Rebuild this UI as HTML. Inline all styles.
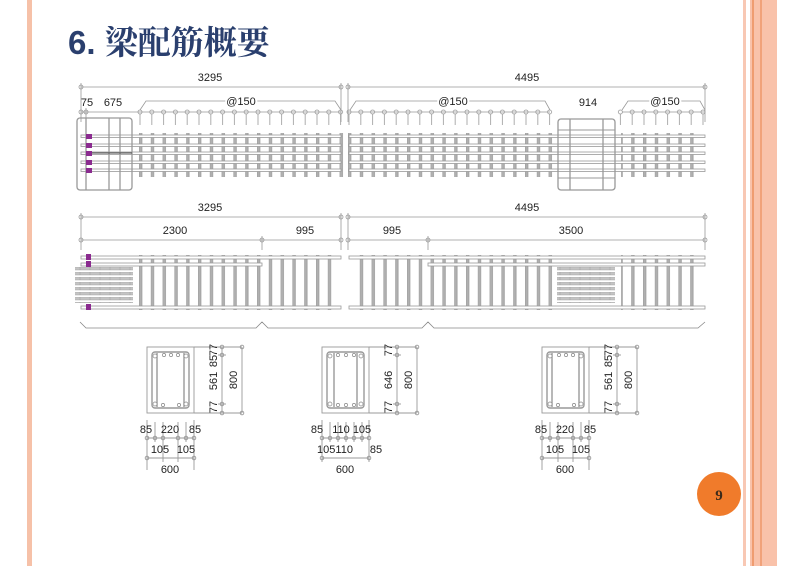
<!DOCTYPE html>
<html><head><meta charset="utf-8"><style>
html,body{margin:0;padding:0;background:#fff;}
body{width:800px;height:566px;overflow:hidden;position:relative;}
svg{position:absolute;left:0;top:0;}
</style></head><body>
<svg width="800" height="566" viewBox="0 0 800 566" xmlns="http://www.w3.org/2000/svg" font-family="'Liberation Sans', sans-serif">
<defs>
 <pattern id="stirL" patternUnits="userSpaceOnUse" x="139" y="0" width="11.8" height="566">
  <rect x="0" y="0" width="3" height="566" fill="#b0b0b0" stroke="#888" stroke-width="0.5"/>
 </pattern>
 <pattern id="stirR" patternUnits="userSpaceOnUse" x="348" y="0" width="11.8" height="566">
  <rect x="0" y="0" width="3" height="566" fill="#b0b0b0" stroke="#888" stroke-width="0.5"/>
 </pattern>
 <pattern id="tickL" patternUnits="userSpaceOnUse" x="134.1" y="105" width="11.8" height="25">
  <circle cx="5.9" cy="7" r="2" fill="none" stroke="#999" stroke-width="0.8"/>
  <line x1="5.9" y1="9" x2="5.9" y2="20" stroke="#999" stroke-width="0.8"/>
 </pattern>
 <pattern id="tickR" patternUnits="userSpaceOnUse" x="343.1" y="105" width="11.8" height="25">
  <circle cx="5.9" cy="7" r="2" fill="none" stroke="#999" stroke-width="0.8"/>
  <line x1="5.9" y1="9" x2="5.9" y2="20" stroke="#999" stroke-width="0.8"/>
 </pattern>
 <pattern id="anch" patternUnits="userSpaceOnUse" x="0" y="267" width="10" height="5">
  <rect x="0" y="0" width="10" height="3" fill="#c4c4c4" stroke="#999" stroke-width="0.4"/>
 </pattern>
</defs>

<rect x="27" y="0" width="5" height="566" fill="#f6c1a8"/>
<rect x="743" y="0" width="3" height="566" fill="#f8c8b4"/>
<rect x="750" y="0" width="27" height="566" fill="#f9c2aa"/>
<rect x="752" y="0" width="2" height="566" fill="#ef9c70"/>
<rect x="760" y="0" width="2" height="566" fill="#f1a27a"/>

<text x="68" y="54" font-size="33" font-weight="bold" fill="#2a3f6e" font-family="'Liberation Sans','Noto Serif CJK SC',serif">6. 梁配筋概要</text>

<g stroke="#999" stroke-width="0.8" fill="none">
 <line x1="81" y1="87" x2="341" y2="87"/><line x1="348" y1="87" x2="705" y2="87"/>
 <line x1="81" y1="83" x2="81" y2="122"/><line x1="341" y1="83" x2="341" y2="122"/>
 <line x1="348" y1="83" x2="348" y2="122"/><line x1="705" y1="83" x2="705" y2="122"/>
 <line x1="86" y1="108" x2="86" y2="122"/>
 <line x1="81" y1="112" x2="341" y2="112"/><line x1="348" y1="112" x2="550" y2="112"/><line x1="622" y1="112" x2="705" y2="112"/>
 <polyline points="140,110 146,101 335,101 341,110"/>
 <polyline points="350,110 356,101 545,101 550,110"/>
 <polyline points="622,110 628,101 700,101 705,110"/>
 <circle cx="81" cy="87" r="2"/><circle cx="341" cy="87" r="2"/><circle cx="348" cy="87" r="2"/><circle cx="705" cy="87" r="2"/>
 <circle cx="81" cy="112" r="2"/><circle cx="86" cy="112" r="2"/>
</g>
<rect x="134" y="105" width="212" height="25" fill="url(#tickL)"/>
<rect x="343" y="105" width="212" height="25" fill="url(#tickR)"/>
<rect x="617" y="105" width="95" height="25" fill="url(#tickR)"/>
<g font-size="11" fill="#222" text-anchor="middle">
 <text x="210" y="81">3295</text><text x="527" y="81">4495</text>
 <text x="87" y="106">75</text><text x="113" y="106">675</text>
 <text x="241" y="105" fill="#fff" stroke="#fff" stroke-width="4">@150</text><text x="241" y="105">@150</text>
 <text x="453" y="105" fill="#fff" stroke="#fff" stroke-width="4">@150</text><text x="453" y="105">@150</text>
 <text x="588" y="106">914</text>
 <text x="665" y="105" fill="#fff" stroke="#fff" stroke-width="4">@150</text><text x="665" y="105">@150</text>
</g>

<rect x="139" y="133" width="205" height="44" fill="url(#stirL)"/>
<rect x="348" y="133" width="205" height="44" fill="url(#stirR)"/>
<rect x="621" y="133" width="80" height="44" fill="url(#stirR)"/>
<g fill="#fff" stroke="#999" stroke-width="0.8">
 <rect x="81" y="135" width="260" height="2.5"/><rect x="81" y="144" width="260" height="2.5"/>
 <rect x="81" y="152" width="260" height="2.5"/><rect x="81" y="161" width="260" height="2.5"/>
 <rect x="81" y="169" width="260" height="2.5"/>
 <rect x="349" y="135" width="356" height="2.5"/><rect x="349" y="144" width="356" height="2.5"/>
 <rect x="349" y="152" width="356" height="2.5"/><rect x="349" y="161" width="356" height="2.5"/>
 <rect x="349" y="169" width="356" height="2.5"/>
</g>
<g fill="none" stroke="#999" stroke-width="1.3">
 <rect x="77" y="118" width="55" height="72" rx="3"/>
 <line x1="86" y1="118" x2="86" y2="190"/><line x1="109" y1="118" x2="109" y2="190"/><line x1="120" y1="118" x2="120" y2="190"/>
 <rect x="558" y="119" width="57" height="71" rx="3"/>
 <line x1="570" y1="119" x2="570" y2="190"/><line x1="603" y1="119" x2="603" y2="190"/>
 <line x1="558" y1="130" x2="615" y2="130" stroke-width="1"/><line x1="558" y1="178" x2="615" y2="178" stroke-width="1"/>
</g>
<line x1="88" y1="153" x2="132" y2="153" stroke="#444" stroke-width="1"/>
<g fill="#8a2b8f">
 <rect x="86" y="134" width="6" height="5"/><rect x="86" y="143" width="6" height="5"/>
 <rect x="86" y="151" width="6" height="5"/><rect x="86" y="160" width="6" height="5"/>
 <rect x="86" y="168" width="6" height="5"/>
</g>

<g stroke="#999" stroke-width="0.8" fill="none">
 <line x1="81" y1="217" x2="341" y2="217"/><line x1="348" y1="217" x2="705" y2="217"/>
 <line x1="81" y1="240" x2="341" y2="240"/><line x1="348" y1="240" x2="705" y2="240"/>
 <line x1="81" y1="213" x2="81" y2="250"/><line x1="341" y1="213" x2="341" y2="250"/>
 <line x1="348" y1="213" x2="348" y2="250"/><line x1="705" y1="213" x2="705" y2="250"/>
 <line x1="262" y1="236" x2="262" y2="250"/><line x1="428" y1="236" x2="428" y2="250"/>
 <circle cx="81" cy="217" r="2"/><circle cx="341" cy="217" r="2"/><circle cx="348" cy="217" r="2"/><circle cx="705" cy="217" r="2"/>
 <circle cx="81" cy="240" r="2"/><circle cx="341" cy="240" r="2"/><circle cx="348" cy="240" r="2"/><circle cx="705" cy="240" r="2"/>
 <circle cx="262" cy="240" r="2"/><circle cx="428" cy="240" r="2"/>
 <polyline points="80,322 86,328 256,328 262,322 268,328 422,328 428,322 434,328 698,328 705,322" stroke="#888"/>
</g>
<g font-size="11" fill="#222" text-anchor="middle">
 <text x="210" y="211">3295</text><text x="527" y="211">4495</text>
 <text x="175" y="234">2300</text><text x="305" y="234">995</text>
 <text x="392" y="234">995</text><text x="571" y="234">3500</text>
</g>
<rect x="137" y="255" width="196" height="55" fill="url(#stirL)"/>
<rect x="357" y="255" width="196" height="55" fill="url(#stirR)"/>
<rect x="621" y="255" width="75" height="55" fill="url(#stirR)"/>
<g fill="#fff" stroke="#999" stroke-width="0.8">
 <rect x="81" y="256" width="260" height="3"/><rect x="81" y="263" width="181" height="3"/>
 <rect x="81" y="306" width="260" height="3"/>
 <rect x="349" y="256" width="356" height="3"/><rect x="428" y="263" width="277" height="3"/>
 <rect x="349" y="306" width="356" height="3"/>
</g>
<rect x="75" y="267" width="58" height="36" fill="url(#anch)"/>
<rect x="557" y="267" width="58" height="36" fill="url(#anch)"/>
<g fill="#8a2b8f">
 <rect x="86" y="254" width="5" height="6"/><rect x="86" y="261" width="5" height="6"/><rect x="86" y="304" width="5" height="6"/>
</g>

<g id="sec1">
 <g fill="none" stroke="#999" stroke-width="0.9">
  <rect x="147" y="347" width="47" height="66"/>
  <rect x="152" y="352" width="37" height="56" rx="3" stroke-width="1.4"/>
  <line x1="157" y1="353" x2="157" y2="407" stroke-width="1.4"/><line x1="184" y1="353" x2="184" y2="407" stroke-width="1.4"/>
  <line x1="194" y1="347" x2="242" y2="347"/><line x1="194" y1="413" x2="242" y2="413"/>
  <line x1="218" y1="355" x2="226" y2="355"/><line x1="218" y1="404" x2="226" y2="404"/>
  <line x1="222" y1="347" x2="222" y2="413"/><line x1="242" y1="347" x2="242" y2="413"/>
  <circle cx="222" cy="347" r="1.8"/><circle cx="222" cy="355" r="1.8"/><circle cx="222" cy="404" r="1.8"/><circle cx="222" cy="413" r="1.8"/>
  <circle cx="242" cy="347" r="1.8"/><circle cx="242" cy="413" r="1.8"/>
  <line x1="147" y1="420" x2="147" y2="470"/><line x1="194" y1="420" x2="194" y2="470"/>
  <line x1="155" y1="422" x2="155" y2="442"/><line x1="186" y1="422" x2="186" y2="442"/>
  <line x1="163" y1="422" x2="163" y2="462"/><line x1="178" y1="422" x2="178" y2="462"/>
  <line x1="147" y1="438" x2="194" y2="438"/><line x1="147" y1="458" x2="194" y2="458"/>
  <circle cx="147" cy="438" r="1.8"/><circle cx="155" cy="438" r="1.8"/><circle cx="163" cy="438" r="1.8"/><circle cx="178" cy="438" r="1.8"/><circle cx="186" cy="438" r="1.8"/><circle cx="194" cy="438" r="1.8"/>
  <circle cx="147" cy="458" r="1.8"/><circle cx="194" cy="458" r="1.8"/>
 </g>
 <g fill="#fff" stroke="#888" stroke-width="0.7">
  <circle cx="155" cy="356" r="2"/><circle cx="164" cy="355" r="1.6"/><circle cx="171" cy="355" r="1.6"/><circle cx="178" cy="355" r="1.6"/><circle cx="186" cy="356" r="2"/>
  <circle cx="155" cy="404" r="2"/><circle cx="163" cy="405" r="1.6"/><circle cx="179" cy="405" r="1.6"/><circle cx="186" cy="404" r="2"/>
 </g>
 <g font-size="11" fill="#222" text-anchor="middle">
  <text transform="translate(217,350) rotate(-90)">77</text>
  <text transform="translate(217,361) rotate(-90)">85</text>
  <text transform="translate(217,381) rotate(-90)">561</text>
  <text transform="translate(217,407) rotate(-90)">77</text>
  <text transform="translate(237,380) rotate(-90)">800</text>
  <text x="146" y="433">85</text><text x="170" y="433">220</text><text x="195" y="433">85</text>
  <text x="160" y="453">105</text><text x="186" y="453">105</text>
  <text x="170" y="473">600</text>
 </g>
</g>
<g id="sec2">
 <g fill="none" stroke="#999" stroke-width="0.9">
  <rect x="322" y="347" width="47" height="66"/>
  <rect x="327" y="352" width="37" height="56" rx="3" stroke-width="1.4"/>
  <line x1="334" y1="353" x2="334" y2="407" stroke-width="1.4"/><line x1="357" y1="353" x2="357" y2="407" stroke-width="1.4"/>
  <line x1="369" y1="347" x2="417" y2="347"/><line x1="369" y1="413" x2="417" y2="413"/>
  <line x1="393" y1="355" x2="401" y2="355"/><line x1="393" y1="404" x2="401" y2="404"/>
  <line x1="397" y1="347" x2="397" y2="413"/><line x1="417" y1="347" x2="417" y2="413"/>
  <circle cx="397" cy="347" r="1.8"/><circle cx="397" cy="355" r="1.8"/><circle cx="397" cy="404" r="1.8"/><circle cx="397" cy="413" r="1.8"/>
  <circle cx="417" cy="347" r="1.8"/><circle cx="417" cy="413" r="1.8"/>
  <line x1="322" y1="420" x2="322" y2="462"/><line x1="369" y1="420" x2="369" y2="462"/>
  <line x1="330" y1="422" x2="330" y2="442"/><line x1="338" y1="422" x2="338" y2="442"/><line x1="346" y1="422" x2="346" y2="442"/><line x1="354" y1="422" x2="354" y2="442"/><line x1="362" y1="422" x2="362" y2="442"/>
  <line x1="322" y1="438" x2="369" y2="438"/><line x1="322" y1="458" x2="369" y2="458"/>
  <circle cx="322" cy="438" r="1.8"/><circle cx="330" cy="438" r="1.8"/><circle cx="338" cy="438" r="1.8"/><circle cx="346" cy="438" r="1.8"/><circle cx="354" cy="438" r="1.8"/><circle cx="362" cy="438" r="1.8"/><circle cx="369" cy="438" r="1.8"/>
  <circle cx="322" cy="458" r="1.8"/><circle cx="369" cy="458" r="1.8"/>
 </g>
 <g fill="#fff" stroke="#888" stroke-width="0.7">
  <circle cx="330" cy="356" r="2"/><circle cx="338" cy="355" r="1.6"/><circle cx="346" cy="355" r="1.6"/><circle cx="354" cy="355" r="1.6"/><circle cx="361" cy="356" r="2"/>
  <circle cx="330" cy="404" r="2"/><circle cx="338" cy="405" r="1.6"/><circle cx="346" cy="405" r="1.6"/><circle cx="354" cy="405" r="1.6"/><circle cx="361" cy="404" r="2"/>
 </g>
 <g font-size="11" fill="#222" text-anchor="middle">
  <text transform="translate(392,350) rotate(-90)">77</text>
  <text transform="translate(392,380) rotate(-90)">646</text>
  <text transform="translate(392,407) rotate(-90)">77</text>
  <text transform="translate(412,380) rotate(-90)">800</text>
  <text x="317" y="433">85</text><text x="341" y="433">110</text><text x="362" y="433">105</text>
  <text x="335" y="453">105110</text><text x="376" y="453">85</text>
  <text x="345" y="473">600</text>
 </g>
</g>
<g id="sec3" transform="translate(395,0)">
 <g fill="none" stroke="#999" stroke-width="0.9">
  <rect x="147" y="347" width="47" height="66"/>
  <rect x="152" y="352" width="37" height="56" rx="3" stroke-width="1.4"/>
  <line x1="157" y1="353" x2="157" y2="407" stroke-width="1.4"/><line x1="184" y1="353" x2="184" y2="407" stroke-width="1.4"/>
  <line x1="194" y1="347" x2="242" y2="347"/><line x1="194" y1="413" x2="242" y2="413"/>
  <line x1="218" y1="355" x2="226" y2="355"/><line x1="218" y1="404" x2="226" y2="404"/>
  <line x1="222" y1="347" x2="222" y2="413"/><line x1="242" y1="347" x2="242" y2="413"/>
  <circle cx="222" cy="347" r="1.8"/><circle cx="222" cy="355" r="1.8"/><circle cx="222" cy="404" r="1.8"/><circle cx="222" cy="413" r="1.8"/>
  <circle cx="242" cy="347" r="1.8"/><circle cx="242" cy="413" r="1.8"/>
  <line x1="147" y1="420" x2="147" y2="470"/><line x1="194" y1="420" x2="194" y2="470"/>
  <line x1="155" y1="422" x2="155" y2="442"/><line x1="186" y1="422" x2="186" y2="442"/>
  <line x1="163" y1="422" x2="163" y2="462"/><line x1="178" y1="422" x2="178" y2="462"/>
  <line x1="147" y1="438" x2="194" y2="438"/><line x1="147" y1="458" x2="194" y2="458"/>
  <circle cx="147" cy="438" r="1.8"/><circle cx="155" cy="438" r="1.8"/><circle cx="163" cy="438" r="1.8"/><circle cx="178" cy="438" r="1.8"/><circle cx="186" cy="438" r="1.8"/><circle cx="194" cy="438" r="1.8"/>
  <circle cx="147" cy="458" r="1.8"/><circle cx="194" cy="458" r="1.8"/>
 </g>
 <g fill="#fff" stroke="#888" stroke-width="0.7">
  <circle cx="155" cy="356" r="2"/><circle cx="164" cy="355" r="1.6"/><circle cx="171" cy="355" r="1.6"/><circle cx="178" cy="355" r="1.6"/><circle cx="186" cy="356" r="2"/>
  <circle cx="155" cy="404" r="2"/><circle cx="163" cy="405" r="1.6"/><circle cx="179" cy="405" r="1.6"/><circle cx="186" cy="404" r="2"/>
 </g>
 <g font-size="11" fill="#222" text-anchor="middle">
  <text transform="translate(217,350) rotate(-90)">77</text>
  <text transform="translate(217,361) rotate(-90)">85</text>
  <text transform="translate(217,381) rotate(-90)">561</text>
  <text transform="translate(217,407) rotate(-90)">77</text>
  <text transform="translate(237,380) rotate(-90)">800</text>
  <text x="146" y="433">85</text><text x="170" y="433">220</text><text x="195" y="433">85</text>
  <text x="160" y="453">105</text><text x="186" y="453">105</text>
  <text x="170" y="473">600</text>
 </g>
</g>

<circle cx="719" cy="494" r="22" fill="#f07b2b"/>
<text x="719" y="500" font-size="15" font-weight="bold" fill="#3a2a1a" text-anchor="middle" font-family="'Liberation Serif', serif">9</text>
</svg>
</body></html>
